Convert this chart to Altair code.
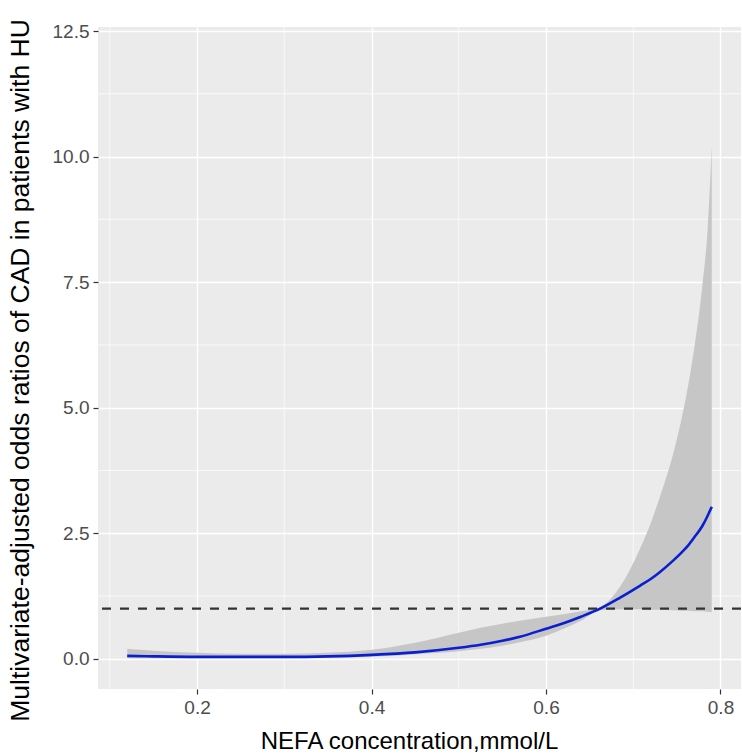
import altair as alt
import pandas as pd

# NEFA concentration (mmol/L)
nefa = [0.12, 0.15, 0.20, 0.25, 0.30, 0.35, 0.40, 0.45, 0.50, 0.525, 0.55, 0.57, 0.60,
        0.62, 0.64, 0.662, 0.685, 0.708, 0.72, 0.73, 0.746, 0.755, 0.763, 0.77, 0.779,
        0.785, 0.79]
# adjusted odds ratio estimate
odds = [0.06, 0.05, 0.04, 0.04, 0.04, 0.05, 0.08, 0.13, 0.22, 0.28, 0.36, 0.44, 0.60,
        0.71, 0.84, 1.00, 1.22, 1.46, 1.59, 1.72, 1.96, 2.11, 2.26, 2.42, 2.64,
        2.84, 3.03]
# 95% CI lower / upper
ci_low = [0.01, 0.01, 0.01, 0.01, 0.01, 0.02, 0.04, 0.09, 0.15, 0.20, 0.26, 0.33, 0.46,
          0.60, 0.76, 0.97, 0.99, 0.99, 0.98, 0.98, 0.97, 0.96, 0.96, 0.95, 0.95,
          0.94, 0.93]
ci_high = [0.20, 0.16, 0.12, 0.10, 0.10, 0.12, 0.18, 0.32, 0.52, 0.62, 0.70, 0.76, 0.84,
           0.89, 0.95, 1.03, 1.44, 2.20, 2.70, 3.20, 4.10, 4.75, 5.45, 6.20, 7.40,
           8.50, 10.20]

x_ticks = [0.2, 0.4, 0.6, 0.8]
x_minor = [0.1, 0.3, 0.5, 0.7]
y_ticks = [0.0, 2.5, 5.0, 7.5, 10.0, 12.5]
y_minor = [1.25, 3.75, 6.25, 8.75, 11.25]
ref_line = [1.0]

df = pd.DataFrame({"x": nefa, "or": odds, "lo": ci_low, "hi": ci_high})

xscale = alt.Scale(domain=[0.0865, 0.8235], nice=False, zero=False)
yscale = alt.Scale(domain=[-0.6, 12.58], nice=False, zero=False)

FONT = "Liberation Sans"

xaxis = alt.Axis(
    values=x_ticks, format=".1f", title="NEFA  concentration,mmol/L",
    grid=True, gridColor="white", gridWidth=1.4, domain=False,
    tickColor="#333333", tickSize=5, tickWidth=1.2,
    labelColor="#4D4D4D", labelFontSize=19, labelFont=FONT, labelPadding=4,
    titleFont=FONT, titleFontSize=24, titleFontWeight="normal", titleColor="black",
    titleX=311, titleY=52, titleBaseline="middle",
)
yaxis = alt.Axis(
    values=y_ticks, format=".1f",
    title="Multivariate-adjusted odds ratios of CAD in patients with HU",
    grid=True, gridColor="white", gridWidth=1.4, domain=False,
    tickColor="#333333", tickSize=5, tickWidth=1.2,
    labelColor="#4D4D4D", labelFontSize=19, labelFont=FONT, labelPadding=4,
    titleFont=FONT, titleFontSize=26.5, titleFontWeight="normal", titleColor="black",
    titleX=-78, titleY=343, titleBaseline="middle",
)

minor_x = alt.Chart(pd.DataFrame({"v": x_minor})).mark_rule(
    color="white", strokeWidth=0.7
).encode(x=alt.X("v:Q", scale=xscale, axis=xaxis))

minor_y = alt.Chart(pd.DataFrame({"v": y_minor})).mark_rule(
    color="white", strokeWidth=0.7
).encode(y=alt.Y("v:Q", scale=yscale, axis=yaxis))

band = alt.Chart(df).mark_area(color="#C6C6C6", opacity=1, interpolate="monotone").encode(
    x=alt.X("x:Q", scale=xscale, axis=xaxis),
    y=alt.Y("lo:Q", scale=yscale, axis=yaxis),
    y2="hi:Q",
)

ref = alt.Chart(pd.DataFrame({"v": ref_line})).mark_rule(
    color="#333333", strokeWidth=2.2, strokeDash=[9, 9]
).encode(y=alt.Y("v:Q", scale=yscale, axis=yaxis))

line = alt.Chart(df).mark_line(color="#0A1FD0", strokeWidth=2.6, interpolate="monotone").encode(
    x=alt.X("x:Q", scale=xscale, axis=xaxis),
    y=alt.Y("or:Q", scale=yscale, axis=yaxis),
)

chart = alt.layer(minor_x, minor_y, band, ref, line).properties(
    width=643, height=662,
    padding={"left": 98, "top": 27, "right": 1, "bottom": 65},
    autosize=alt.AutoSizeParams(type="none"),
    background="white",
).configure_view(fill="#EBEBEB", stroke=None)

chart.save("out.html", embed_options={"renderer": "svg", "actions": False})
